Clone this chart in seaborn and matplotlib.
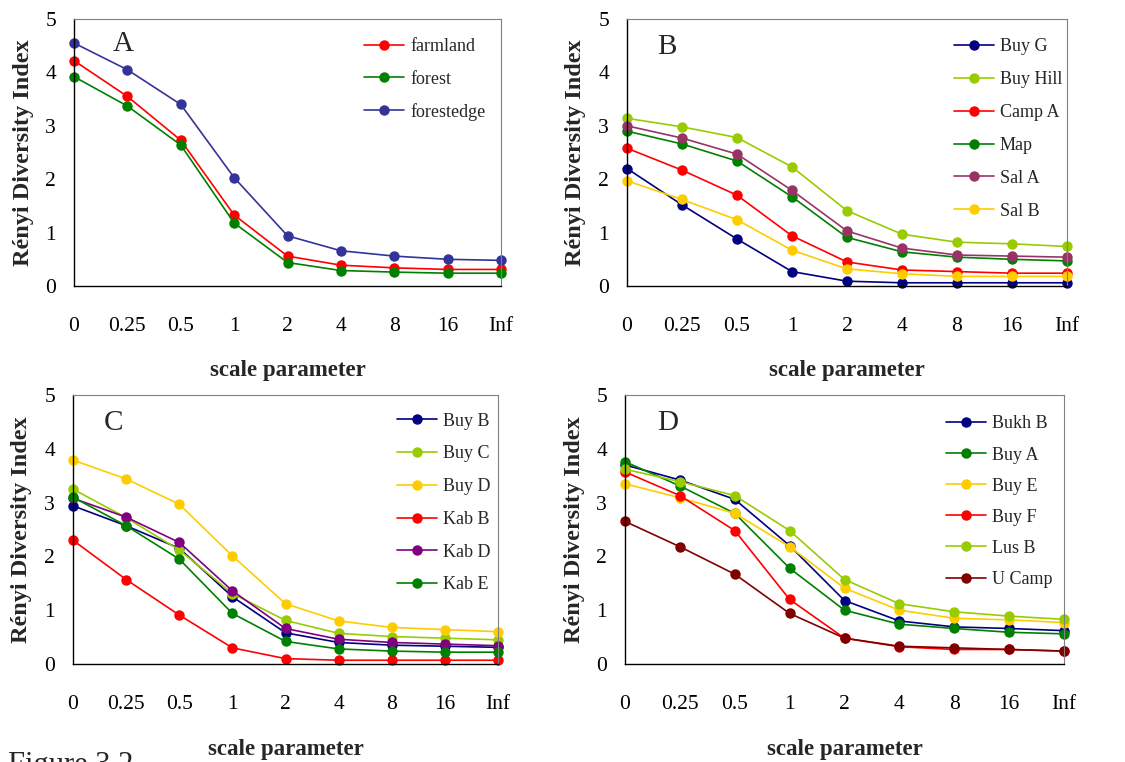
import matplotlib
matplotlib.use("Agg")
import matplotlib.pyplot as plt
import seaborn as sns
import pandas as pd

# ---------------- data ----------------
scale_labels = ["0", "0.25", "0.5", "1", "2", "4", "8", "16", "Inf"]

# Panel A
a_names = ["farmland", "forest", "forestedge"]
a_farmland = [4.22, 3.55, 2.73, 1.33, 0.56, 0.39, 0.34, 0.31, 0.31]
a_forest = [3.92, 3.37, 2.64, 1.18, 0.44, 0.29, 0.26, 0.24, 0.24]
a_forestedge = [4.55, 4.05, 3.40, 2.03, 0.94, 0.66, 0.56, 0.50, 0.48]

# Panel B
b_names = ["Buy G", "Buy Hill", "Camp A", "Map", "Sal A", "Sal B"]
b_buy_g = [2.20, 1.52, 0.88, 0.27, 0.09, 0.06, 0.06, 0.06, 0.06]
b_buy_hill = [3.14, 2.98, 2.78, 2.23, 1.41, 0.97, 0.82, 0.79, 0.74]
b_camp_a = [2.58, 2.17, 1.70, 0.94, 0.45, 0.30, 0.27, 0.24, 0.24]
b_map = [2.90, 2.66, 2.34, 1.67, 0.91, 0.64, 0.54, 0.50, 0.47]
b_sal_a = [3.00, 2.77, 2.47, 1.79, 1.03, 0.71, 0.58, 0.56, 0.54]
b_sal_b = [1.97, 1.62, 1.24, 0.67, 0.32, 0.23, 0.18, 0.18, 0.18]

# Panel C
c_names = ["Buy B", "Buy C", "Buy D", "Kab B", "Kab D", "Kab E"]
c_buy_b = [2.94, 2.57, 2.15, 1.25, 0.58, 0.40, 0.35, 0.33, 0.31]
c_buy_c = [3.25, 2.72, 2.12, 1.31, 0.81, 0.57, 0.51, 0.48, 0.45]
c_buy_d = [3.79, 3.44, 2.97, 2.01, 1.12, 0.80, 0.68, 0.64, 0.60]
c_kab_b = [2.30, 1.57, 0.91, 0.30, 0.10, 0.07, 0.07, 0.07, 0.07]
c_kab_d = [3.08, 2.73, 2.26, 1.36, 0.66, 0.46, 0.40, 0.37, 0.34]
c_kab_e = [3.10, 2.57, 1.95, 0.94, 0.42, 0.28, 0.24, 0.22, 0.22]

# Panel D
d_names = ["Bukh B", "Buy A", "Buy E", "Buy F", "Lus B", "U Camp"]
d_bukh_b = [3.70, 3.42, 3.06, 2.20, 1.18, 0.80, 0.69, 0.66, 0.62]
d_buy_a = [3.76, 3.31, 2.80, 1.78, 1.00, 0.74, 0.66, 0.59, 0.56]
d_buy_e = [3.35, 3.09, 2.80, 2.18, 1.41, 1.00, 0.85, 0.82, 0.77]
d_buy_f = [3.57, 3.13, 2.48, 1.20, 0.48, 0.32, 0.27, 0.27, 0.24]
d_lus_b = [3.62, 3.39, 3.13, 2.48, 1.57, 1.12, 0.97, 0.89, 0.83]
d_u_camp = [2.65, 2.18, 1.67, 0.94, 0.48, 0.33, 0.30, 0.27, 0.24]

panels = [
    ("A", a_names, [a_farmland, a_forest, a_forestedge],
     ["#ff0000", "#008000", "#333399"]),
    ("B", b_names, [b_buy_g, b_buy_hill, b_camp_a, b_map, b_sal_a, b_sal_b],
     ["#000080", "#99cc00", "#ff0000", "#008000", "#993366", "#ffcc00"]),
    ("C", c_names, [c_buy_b, c_buy_c, c_buy_d, c_kab_b, c_kab_d, c_kab_e],
     ["#000080", "#99cc00", "#ffcc00", "#ff0000", "#800080", "#008000"]),
    ("D", d_names, [d_bukh_b, d_buy_a, d_buy_e, d_buy_f, d_lus_b, d_u_camp],
     ["#000080", "#008000", "#ffcc00", "#ff0000", "#99cc00", "#800000"]),
]

# ---------------- style ----------------
sns.set_theme(style="white")
plt.rcParams["font.family"] = ["Liberation Serif", "DejaVu Serif"]

W, H = 1125, 762
fig = plt.figure(figsize=(W / 100, H / 100), dpi=100)
fig.patch.set_facecolor("white")

# pixel rects: left, top, right, bottom
rects_px = [(74, 19, 501, 286), (627, 19, 1067, 286),
            (73, 395, 498, 664), (625, 395, 1064, 664)]
legend_anchor = [(0.68, 0.928), (0.743, 0.928), (0.762, 0.934), (0.731, 0.924)]
letter_pos = [(0.115, 0.905), (0.09, 0.895), (0.096, 0.895), (0.098, 0.895)]
ylabel_x = [-0.094, -0.093, -0.097, -0.091]
labelspacing = [0.85, 0.88, 0.87, 0.78]

for i, (letter, names, series, colors) in enumerate(panels):
    l, t, r, b = rects_px[i]
    ax = fig.add_axes([l / W, 1 - b / H, (r - l) / W, (b - t) / H])
    for name, vals, col in zip(names, series, colors):
        df = pd.DataFrame({"scale": scale_labels, "value": vals})
        sns.lineplot(data=df, x="scale", y="value", ax=ax, color=col,
                     marker="o", markersize=7.5, markeredgewidth=0,
                     linewidth=1.2, label=name, sort=False)
    ax.set_xlim(0, 8)
    ax.set_ylim(0, 5)
    ax.set_yticks(range(0, 6))
    ax.set_xticks(range(len(scale_labels)))
    ax.set_xticklabels(scale_labels)
    ax.tick_params(axis="both", direction="out", length=5, width=1,
                   color="black", labelsize=15.5, labelcolor="black")
    ax.tick_params(axis="x", pad=17)
    ax.tick_params(axis="y", pad=8)
    ax.spines["left"].set_color("black")
    ax.spines["bottom"].set_color("black")
    ax.spines["left"].set_linewidth(1.0)
    ax.spines["bottom"].set_linewidth(1.0)
    for s in ("top", "right"):
        ax.spines[s].set_color("#808080")
        ax.spines[s].set_linewidth(0.8)
    ax.set_xlabel("scale parameter", fontsize=16.5, fontweight="bold")
    ax.set_ylabel("Rényi Diversity Index", fontsize=17.5, fontweight="bold")
    ax.xaxis.set_label_coords(0.5, -0.277)
    ax.yaxis.set_label_coords(ylabel_x[i], 0.5)
    ax.text(letter_pos[i][0], letter_pos[i][1], letter, transform=ax.transAxes,
            fontsize=21, ha="center", va="center")
    ax.legend(loc="upper left", bbox_to_anchor=legend_anchor[i],
              frameon=False, fontsize=13, handlelength=2.2,
              handletextpad=0.35, labelspacing=labelspacing[i],
              borderpad=0, borderaxespad=0)
    for ln in ax.get_lines():
        ln.set_clip_on(False)

# caption (cut off at the bottom edge, as in the reference)
fig.text(8 / W, 1 - 751 / H, "Figure 3.2", fontsize=22, ha="left", va="top")

fig.savefig("out.png", dpi=100, facecolor="white")
